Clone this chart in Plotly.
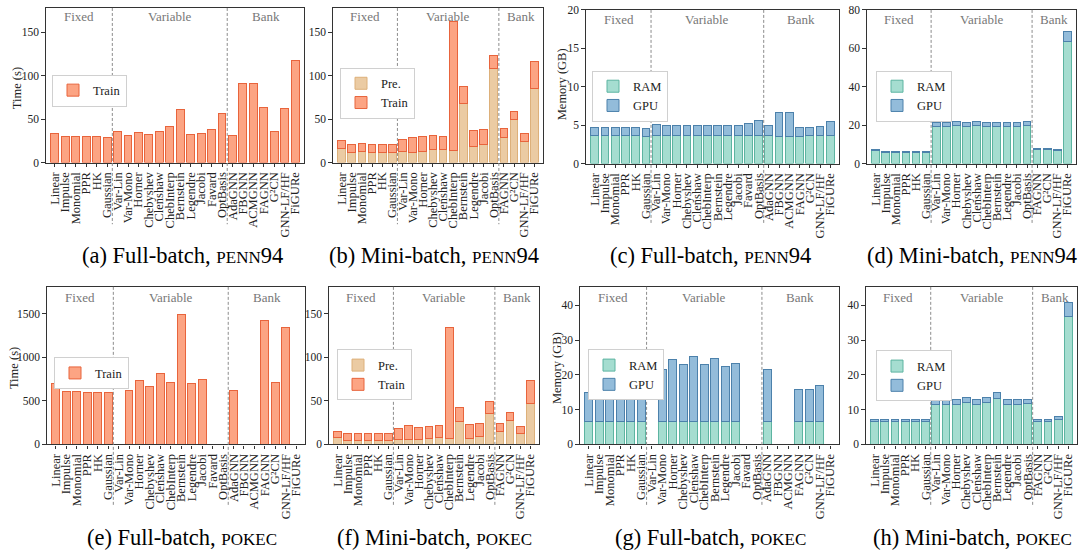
import plotly.graph_objects as go

W, H = 1088, 560
FONT = "Liberation Serif"

# ---------------- categories ----------------
FB_CATS = ["Linear", "Impulse", "Monomial", "PPR", "HK", "Gaussian",
           "Var-Lin", "Var-Mono", "Horner", "Chebyshev", "Clenshaw", "ChebInterp",
           "Bernstein", "Legendre", "Jacobi", "Favard", "OptBasis",
           "AdaGNN", "FBGNN", "ACMGNN", "FAGNN", "G²CN", "GNN-LF/HF", "FiGURe"]
MB_CATS = ["Linear", "Impulse", "Monomial", "PPR", "HK", "Gaussian",
           "Var-Lin", "Var-Mono", "Horner", "Chebyshev", "Clenshaw", "ChebInterp",
           "Bernstein", "Legendre", "Jacobi", "OptBasis",
           "FAGNN", "G²CN", "GNN-LF/HF", "FiGURe"]
GROUPS = ["Fixed", "Variable", "Bank"]
FB_SEPS = [5.5, 16.5]
MB_SEPS = [5.5, 15.5]

# ---------------- data ----------------
# (a) Full-batch, PENN94 : time (s)
penn_fb_train = [34, 30, 30, 30, 29.5, 29, 35.6, 30.7, 34.5, 31.9, 36, 41, 61, 32.6, 34, 37.5, 56.3,
                 31, 91.5, 91.5, 63.8, 35.6, 62.6, 117]
# (b) Mini-batch, PENN94 : time (s)
penn_mb_pre = [16.1, 11.6, 12.4, 11.6, 11.6, 11.6, 12.8, 12.0, 13.1, 15.0, 15.4, 13.9, 67.5, 18.4, 20.6, 108,
               29.3, 49.5, 24.4, 85.1]
penn_mb_train = [9.0, 8.7, 9.0, 9.4, 9.4, 9.4, 13.8, 16.9, 16.5, 16.1, 14.6, 148.1, 19.9, 18.4, 16.9, 15.4,
                 9.7, 9.0, 9.0, 31.5]
# (c) Full-batch, PENN94 : memory (GB)
penn_fb_ram = [3.6, 3.6, 3.6, 3.6, 3.6, 3.5, 3.6, 3.6, 3.6, 3.6, 3.6, 3.6, 3.6, 3.6, 3.6, 3.6, 3.6,
               3.6, 3.5, 3.5, 3.5, 3.6, 3.6, 3.6]
penn_fb_gpu = [1.1, 1.1, 1.1, 1.15, 1.1, 1.1, 1.5, 1.35, 1.35, 1.35, 1.35, 1.35, 1.4, 1.35, 1.35, 1.6, 1.95,
               1.35, 3.15, 3.15, 1.2, 1.15, 1.25, 1.9]
# (d) Mini-batch, PENN94 : memory (GB)
penn_mb_ram = [6.6, 5.6, 5.6, 5.6, 5.6, 5.6, 19.3, 19.3, 19.8, 19.2, 19.8, 19.2, 19.3, 19.2, 19.2, 19.8,
               7.3, 7.3, 6.8, 63.4]
penn_mb_gpu = [0.7, 0.7, 0.7, 0.7, 0.7, 0.7, 2.2, 2.2, 2.2, 2.2, 2.2, 2.2, 2.2, 2.2, 2.2, 2.2,
               0.7, 0.7, 0.7, 5.4]
# (e) Full-batch, POKEC : time (s)
pokec_fb_train = [705, 603, 603, 595, 597, 600, 0, 618, 739, 660, 810, 708, 1488, 697, 746, 0, 0,
                  625, 0, 0, 1424, 716, 1345, 0]
# (f) Mini-batch, POKEC : time (s)
pokec_mb_pre = [8.3, 4.9, 4.9, 4.9, 4.9, 4.9, 5.7, 6.0, 6.0, 6.8, 7.5, 7.2, 26.4, 6.8, 8.7, 35.4,
                15.1, 27.5, 12.4, 46.7]
pokec_mb_train = [6.8, 7.9, 7.9, 7.9, 7.9, 7.2, 12.4, 15.5, 13.6, 13.9, 14.4, 126.6, 15.8, 16.6, 15.8, 14.0,
                  9.4, 9.4, 8.3, 26.4]
# (g) Full-batch, POKEC : memory (GB)
pokec_fb_ram = [6.7, 6.7, 6.7, 6.7, 6.7, 6.7, 0, 6.5, 6.6, 6.6, 6.6, 6.6, 6.6, 6.6, 6.6, 0, 0,
                6.7, 0, 0, 6.6, 6.6, 6.6, 0]
pokec_fb_gpu = [8.3, 8.4, 8.4, 8.4, 7.5, 8.4, 0, 14.9, 17.8, 16.3, 18.6, 16.3, 18.1, 15.9, 16.6, 0, 0,
                14.7, 0, 0, 9.2, 9.2, 10.3, 0]
# (h) Mini-batch, POKEC : memory (GB)
pokec_mb_ram = [6.5, 6.5, 6.5, 6.5, 6.5, 6.5, 11.6, 11.6, 11.6, 12.1, 11.6, 12.1, 13.2, 11.6, 11.6, 11.9,
                6.5, 6.5, 7.1, 36.9]
pokec_mb_gpu = [0.7, 0.7, 0.7, 0.7, 0.7, 0.7, 1.4, 1.4, 1.4, 1.5, 1.4, 1.5, 1.8, 1.4, 1.4, 1.1,
                0.6, 0.6, 0.9, 3.8]

COLORS = {
    "Pre.": ("#EBCBA3", "#DDB07A"),
    "Train": ("#FCA483", "#E8643C"),
    "RAM": ("#A5DDD0", "#5DB4A1"),
    "GPU": ("#93BCDA", "#4C81AB"),
}

SMALL = "<span style='font-size:17px'>{}</span>"
PENN = SMALL.format("PENN") + "94"
POKEC = SMALL.format("POKEC")

# box = (left, top, right, bottom) in pixels
panels = [
    dict(cats=FB_CATS, seps=FB_SEPS, series=[("Train", penn_fb_train)], box=(46, 2, 304, 160),
         yrange=[0, 178], ticks=[0, 50, 100, 150], ytitle=("Time (s)", 17, 84, 12.5),
         leg=(52, 70), cap=("(a) Full-batch, " + PENN, 182, 255), glab_y=11, sep_bot=223),
    dict(cats=MB_CATS, seps=MB_SEPS, series=[("Pre.", penn_mb_pre), ("Train", penn_mb_train)],
         box=(333, 2, 543, 160), yrange=[0, 178], ticks=[0, 50, 100, 150], ytitle=None,
         leg=(340, 63), cap=("(b) Mini-batch, " + PENN, 434, 255), glab_y=11, sep_bot=223),
    dict(cats=FB_CATS, seps=FB_SEPS, series=[("RAM", penn_fb_ram), ("GPU", penn_fb_gpu)],
         box=(586, 4, 839, 161), yrange=[0, 20], ticks=[0, 5, 10, 15, 20], ytitle=("Memory (GB)", 562, 80, 12.5),
         leg=(592, 66), cap=("(c) Full-batch, " + PENN, 710, 255), glab_y=14, sep_bot=223),
    dict(cats=MB_CATS, seps=MB_SEPS, series=[("RAM", penn_mb_ram), ("GPU", penn_mb_gpu)],
         box=(867, 4, 1076, 161), yrange=[0, 80], ticks=[0, 20, 40, 60, 80], ytitle=None,
         leg=(876, 66), cap=("(d) Mini-batch, " + PENN, 972, 255), glab_y=14, sep_bot=223),
    dict(cats=FB_CATS, seps=FB_SEPS, series=[("Train", pokec_fb_train)], box=(47, 287, 305, 448),
         yrange=[0, 1810], ticks=[0, 500, 1000, 1500], ytitle=("Time (s)", 14, 370, 12.5),
         leg=(54, 359), cap=("(e) Full-batch, " + POKEC, 182, 543), glab_y=298, sep_bot=510),
    dict(cats=MB_CATS, seps=MB_SEPS, series=[("Pre.", pokec_mb_pre), ("Train", pokec_mb_train)],
         box=(329, 287, 539, 448), yrange=[0, 181], ticks=[0, 50, 100, 150], ytitle=None,
         leg=(337, 351), cap=("(f) Mini-batch, " + POKEC, 434, 543), glab_y=298, sep_bot=510),
    dict(cats=FB_CATS, seps=FB_SEPS, series=[("RAM", pokec_fb_ram), ("GPU", pokec_fb_gpu)],
         box=(580, 287, 839, 448), yrange=[0, 45.3], ticks=[0, 10, 20, 30, 40], ytitle=("Memory (GB)", 557, 370, 12.5),
         leg=(588, 351), cap=("(g) Full-batch, " + POKEC, 710, 543), glab_y=298, sep_bot=510),
    dict(cats=MB_CATS, seps=MB_SEPS, series=[("RAM", pokec_mb_ram), ("GPU", pokec_mb_gpu)],
         box=(866, 287, 1077, 448), yrange=[0, 45.3], ticks=[0, 10, 20, 30, 40], ytitle=None,
         leg=(876, 352), cap=("(h) Mini-batch, " + POKEC, 972, 543), glab_y=298, sep_bot=510),
]

fig = go.Figure()
annotations = []
shapes = []
layout_upd = {}

for i, p in enumerate(panels, start=1):
    sfx = "" if i == 1 else str(i)
    xa, ya, lg = "x" + sfx, "y" + sfx, "legend" + sfx
    n = len(p["cats"])
    xs = list(range(n))
    xr = [-0.85, n - 0.15]
    for name, vals in p["series"]:
        fill, edge = COLORS[name]
        fig.add_trace(go.Bar(
            x=xs, y=vals, name=name, xaxis=xa, yaxis=ya, legend=lg, width=0.76,
            marker=dict(color=fill, line=dict(color=edge, width=1)),
        ))
    l, t, r, b = p["box"]
    layout_upd["xaxis" + sfx] = dict(
        domain=[l / W, r / W], anchor=ya, range=xr, tickmode="array", tickvals=xs,
        ticktext=p["cats"], tickangle=-90, showline=True, mirror=True, linecolor="#333",
        linewidth=1.3, ticks="outside", ticklen=3.5, tickcolor="#333", showgrid=False,
        zeroline=False, tickfont=dict(family=FONT, size=12.5, color="#222"),
        ticklabeloverflow="allow",
    )
    layout_upd["yaxis" + sfx] = dict(
        domain=[1 - b / H, 1 - t / H], anchor=xa, range=p["yrange"], tickmode="array",
        tickvals=p["ticks"], showline=True, mirror=True, linecolor="#333", linewidth=1.3,
        ticks="outside", ticklen=3.5, tickcolor="#333", showgrid=False, zeroline=False,
        tickfont=dict(family=FONT, size=11.5, color="#222"), ticklabeloverflow="allow",
    )
    lx, ly = p["leg"]
    layout_upd[lg] = dict(
        x=lx / W, y=1 - ly / H, xanchor="left", yanchor="top", bgcolor="white",
        bordercolor="#d0d0d0", borderwidth=1, traceorder="normal",
        font=dict(family=FONT, size=12.5, color="#222"), itemwidth=30,
    )
    # group separators and labels
    s1, s2 = p["seps"]
    for s in (s1, s2):
        fx = (s - xr[0]) / (xr[1] - xr[0])
        shapes.append(dict(type="line", xref=xa + " domain", yref="paper", x0=fx, x1=fx,
                           y0=1 - t / H, y1=1 - p["sep_bot"] / H,
                           line=dict(color="#8c8c8c", width=1, dash="3px,2px")))
    centers = [(xr[0] + s1) / 2, (s1 + s2) / 2, (s2 + xr[1]) / 2]
    for g, cx in zip(GROUPS, centers):
        annotations.append(dict(x=cx, xref=xa, y=1 - p["glab_y"] / H, yref="paper", text=g,
                                showarrow=False, xanchor="center", yanchor="middle",
                                font=dict(family=FONT, size=13, color="#777")))
    if p["ytitle"]:
        txt, tx, ty, fs = p["ytitle"]
        annotations.append(dict(x=tx / W, y=1 - ty / H, xref="paper", yref="paper", text=txt,
                                textangle=-90, showarrow=False, xanchor="center", yanchor="middle",
                                font=dict(family=FONT, size=fs, color="#222")))
    ctxt, cx, cy = p["cap"]
    annotations.append(dict(x=cx / W, y=1 - cy / H, xref="paper", yref="paper", text=ctxt,
                            showarrow=False, xanchor="center", yanchor="middle",
                            font=dict(family=FONT, size=22.5, color="black")))

fig.update_layout(
    width=W, height=H, margin=dict(l=0, r=0, t=0, b=0), barmode="stack",
    plot_bgcolor="white", paper_bgcolor="white", showlegend=True,
    annotations=annotations, shapes=shapes, font=dict(family=FONT),
    **layout_upd,
)

fig.write_html("out.html")
